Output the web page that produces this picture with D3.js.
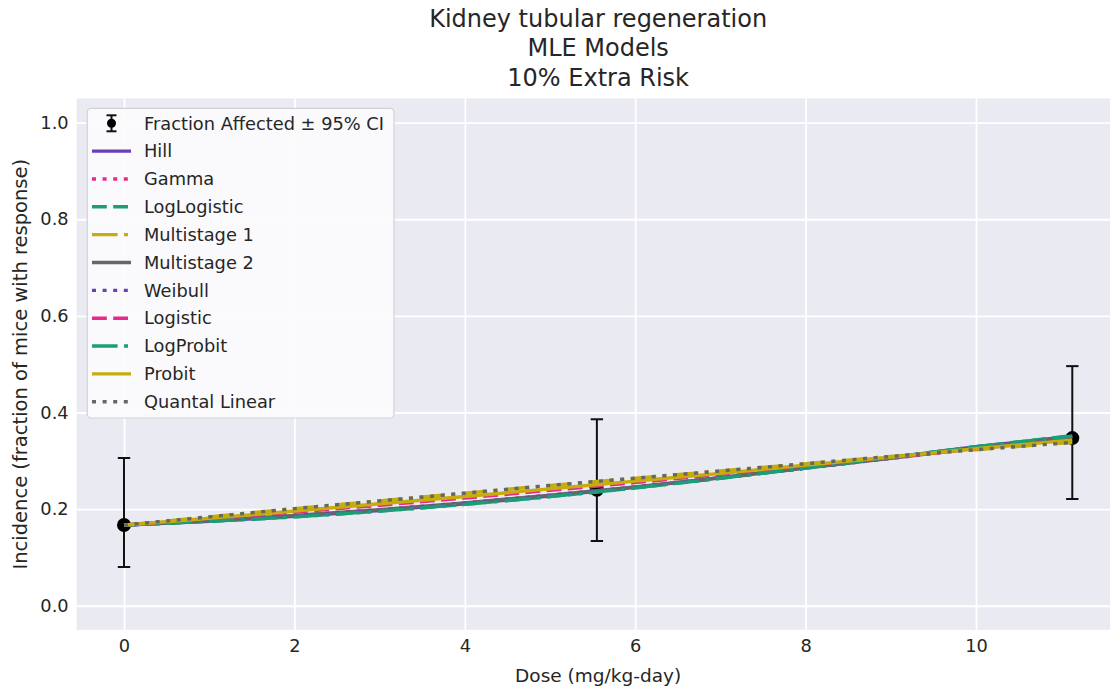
<!DOCTYPE html>
<html>
<head>
<meta charset="utf-8">
<script src="https://cdn.jsdelivr.net/npm/d3@7"></script>
<style>
  html, body { margin: 0; padding: 0; background: #ffffff; }
  svg { display: block; font-family: "DejaVu Sans", sans-serif; }
</style>
</head>
<body>
<svg id="chart" width="1110" height="691"></svg>
<script>
// ---------------- data ----------------
const titleLines = ["Kidney tubular regeneration", "MLE Models", "10% Extra Risk"];
const xLabel = "Dose (mg/kg-day)";
const yLabel = "Incidence (fraction of mice with response)";

// observed data
const obsDose = [0, 5.55, 11.13];
const obsIncidence = [0.167, 0.240, 0.347];
const obsLower = [0.080, 0.134, 0.221];
const obsUpper = [0.306, 0.386, 0.496];

// model curves sampled on this dose grid
const curveDose = [0, 1, 2, 3, 4, 5, 6, 7, 8, 9, 10, 11.13];
const hill          = [0.167, 0.175, 0.185, 0.197, 0.211, 0.227, 0.245, 0.265, 0.286, 0.307, 0.329, 0.351];
const gamma         = [0.167, 0.176, 0.187, 0.199, 0.213, 0.229, 0.246, 0.265, 0.285, 0.305, 0.326, 0.349];
const logLogistic   = [0.167, 0.175, 0.184, 0.196, 0.210, 0.226, 0.244, 0.264, 0.285, 0.307, 0.329, 0.352];
const multistage1   = [0.167, 0.184, 0.201, 0.217, 0.233, 0.249, 0.264, 0.279, 0.294, 0.309, 0.323, 0.338];
const multistage2   = [0.167, 0.176, 0.187, 0.199, 0.213, 0.229, 0.246, 0.265, 0.285, 0.305, 0.326, 0.350];
const weibull       = [0.167, 0.176, 0.186, 0.198, 0.212, 0.228, 0.245, 0.265, 0.285, 0.306, 0.327, 0.350];
const logistic      = [0.167, 0.180, 0.194, 0.208, 0.223, 0.239, 0.255, 0.272, 0.289, 0.307, 0.325, 0.345];
const logProbit     = [0.167, 0.175, 0.184, 0.196, 0.210, 0.226, 0.244, 0.264, 0.285, 0.307, 0.329, 0.351];
const probit        = [0.167, 0.181, 0.196, 0.211, 0.226, 0.242, 0.258, 0.274, 0.291, 0.308, 0.325, 0.343];
const quantalLinear = [0.167, 0.184, 0.201, 0.217, 0.233, 0.249, 0.264, 0.279, 0.294, 0.309, 0.323, 0.338];

const modelNames = ["Hill", "Gamma", "LogLogistic", "Multistage 1", "Multistage 2",
                    "Weibull", "Logistic", "LogProbit", "Probit", "Quantal Linear"];
const modelValues = [hill, gamma, logLogistic, multistage1, multistage2,
                     weibull, logistic, logProbit, probit, quantalLinear];
const modelColors = ["#6a3fb8", "#e7298a", "#1b9e77", "#c4ad0c", "#666666",
                     "#6a3fb8", "#e7298a", "#1b9e77", "#c4ad0c", "#666666"];
const modelDash = ["solid", "dotted", "dashed", "dashdot", "solid",
                   "dotted", "dashed", "dashdot", "solid", "dotted"];

const xTicks = [0, 2, 4, 6, 8, 10];
const yTicks = [0.0, 0.2, 0.4, 0.6, 0.8, 1.0];
const legendErrLabel = "Fraction Affected ± 95% CI";

// ---------------- layout ----------------
const svg = d3.select("#chart");
const plotL = 76.6, plotR = 1119.7, plotT = 98.5, plotB = 629.9;
const textColor = "#262626";
const dashMap = { solid: null, dotted: "4,6.6", dashed: "14.8,6.4", dashdot: "25.6,6.4,4,6.4" };

const x = d3.scaleLinear().domain([-0.5565, 11.6865]).range([plotL, plotR]);
const y = d3.scaleLinear().domain([-0.05, 1.05]).range([plotB, plotT]);

// clip
svg.append("defs").append("clipPath").attr("id", "clip")
  .append("rect").attr("x", plotL).attr("y", plotT)
  .attr("width", plotR - plotL).attr("height", plotB - plotT);

// background
svg.append("rect").attr("x", plotL).attr("y", plotT)
  .attr("width", plotR - plotL).attr("height", plotB - plotT)
  .attr("fill", "#eaeaf2");

// grid via axes
const xGrid = svg.append("g").attr("transform", `translate(0,${plotB})`)
  .call(d3.axisBottom(x).tickValues(xTicks).tickSize(-(plotB - plotT)).tickFormat(""));
xGrid.select(".domain").remove();
xGrid.selectAll("line").attr("stroke", "#ffffff").attr("stroke-width", 1.8);

const yGrid = svg.append("g").attr("transform", `translate(${plotL},0)`)
  .call(d3.axisLeft(y).tickValues(yTicks).tickSize(-(plotR - plotL)).tickFormat(""));
yGrid.select(".domain").remove();
yGrid.selectAll("line").attr("stroke", "#ffffff").attr("stroke-width", 1.8);

// tick labels via axes
const xAxis = svg.append("g").attr("transform", `translate(0,${plotB})`)
  .call(d3.axisBottom(x).tickValues(xTicks).tickSize(0).tickPadding(9).tickFormat(d3.format("d")));
xAxis.select(".domain").remove();
xAxis.selectAll("text").attr("font-size", "17.8px").attr("fill", textColor)
  .attr("font-family", "DejaVu Sans");

const yAxis = svg.append("g").attr("transform", `translate(${plotL},0)`)
  .call(d3.axisLeft(y).tickValues(yTicks).tickSize(0).tickPadding(8).tickFormat(d3.format(".1f")));
yAxis.select(".domain").remove();
yAxis.selectAll("text").attr("font-size", "17.8px").attr("fill", textColor)
  .attr("font-family", "DejaVu Sans");

const plotG = svg.append("g").attr("clip-path", "url(#clip)");

// error bars + points
const obs = obsDose.map((d, i) => ({ d, p: obsIncidence[i], lo: obsLower[i], hi: obsUpper[i] }));
const capW = 6.2;
plotG.selectAll(".ebar").data(obs).enter().append("line")
  .attr("x1", d => x(d.d)).attr("x2", d => x(d.d))
  .attr("y1", d => y(d.lo)).attr("y2", d => y(d.hi))
  .attr("stroke", "#111111").attr("stroke-width", 2);
plotG.selectAll(".capl").data(obs).enter().append("line")
  .attr("x1", d => x(d.d) - capW).attr("x2", d => x(d.d) + capW)
  .attr("y1", d => y(d.lo)).attr("y2", d => y(d.lo))
  .attr("stroke", "#111111").attr("stroke-width", 2);
plotG.selectAll(".caph").data(obs).enter().append("line")
  .attr("x1", d => x(d.d) - capW).attr("x2", d => x(d.d) + capW)
  .attr("y1", d => y(d.hi)).attr("y2", d => y(d.hi))
  .attr("stroke", "#111111").attr("stroke-width", 2);
plotG.selectAll(".pt").data(obs).enter().append("circle")
  .attr("cx", d => x(d.d)).attr("cy", d => y(d.p)).attr("r", 7)
  .attr("fill", "#000000");

// model lines
const line = d3.line().x(d => x(d[0])).y(d => y(d[1])).curve(d3.curveMonotoneX);
modelValues.forEach((vals, i) => {
  const pts = curveDose.map((d, j) => [d, vals[j]]);
  plotG.append("path").datum(pts)
    .attr("d", line)
    .attr("fill", "none")
    .attr("stroke", modelColors[i])
    .attr("stroke-width", 3.4)
    .attr("stroke-dasharray", dashMap[modelDash[i]]);
});

// title
svg.append("g").selectAll("text").data(titleLines).enter().append("text")
  .attr("x", (plotL + plotR) / 2)
  .attr("y", (d, i) => 26.5 + i * 29.7)
  .attr("text-anchor", "middle")
  .attr("font-size", "24px")
  .attr("fill", textColor)
  .text(d => d);

// axis labels
svg.append("text")
  .attr("x", (plotL + plotR) / 2).attr("y", 682)
  .attr("text-anchor", "middle").attr("font-size", "18.5px").attr("fill", textColor)
  .text(xLabel);
svg.append("text")
  .attr("transform", `translate(27,${(plotT + plotB) / 2}) rotate(-90)`)
  .attr("text-anchor", "middle").attr("font-size", "19.5px").attr("fill", textColor)
  .text(yLabel);

// legend
const lg = svg.append("g");
const lgX = 87.3, lgY = 108.3, lgW = 306.7, lgH = 309.7;
lg.append("rect").attr("x", lgX).attr("y", lgY).attr("width", lgW).attr("height", lgH)
  .attr("rx", 4).attr("ry", 4)
  .attr("fill", "#fbfbfc").attr("fill-opacity", 0.95)
  .attr("stroke", "#d2d2d6").attr("stroke-width", 1.2);

const rowY0 = 123.3, rowStep = 27.84;
const hx0 = 92, hx1 = 131, textX = 144;
// error-bar handle
const ehx = (hx0 + hx1) / 2;
lg.append("line").attr("x1", ehx).attr("x2", ehx).attr("y1", rowY0 - 8).attr("y2", rowY0 + 8)
  .attr("stroke", "#111").attr("stroke-width", 2);
lg.append("line").attr("x1", ehx - 5).attr("x2", ehx + 5).attr("y1", rowY0 - 8).attr("y2", rowY0 - 8)
  .attr("stroke", "#111").attr("stroke-width", 2);
lg.append("line").attr("x1", ehx - 5).attr("x2", ehx + 5).attr("y1", rowY0 + 8).attr("y2", rowY0 + 8)
  .attr("stroke", "#111").attr("stroke-width", 2);
lg.append("circle").attr("cx", ehx).attr("cy", rowY0).attr("r", 4.5).attr("fill", "#000");
lg.append("text").attr("x", textX).attr("y", rowY0).attr("dy", "0.35em")
  .attr("font-size", "17.8px").attr("fill", textColor).text(legendErrLabel);

modelNames.forEach((name, i) => {
  const yy = rowY0 + (i + 1) * rowStep;
  lg.append("line").attr("x1", hx0).attr("x2", hx1).attr("y1", yy).attr("y2", yy)
    .attr("stroke", modelColors[i]).attr("stroke-width", 3.4)
    .attr("stroke-dasharray", dashMap[modelDash[i]]);
  lg.append("text").attr("x", textX).attr("y", yy).attr("dy", "0.35em")
    .attr("font-size", "17.8px").attr("fill", textColor).text(name);
});
</script>
</body>
</html>
